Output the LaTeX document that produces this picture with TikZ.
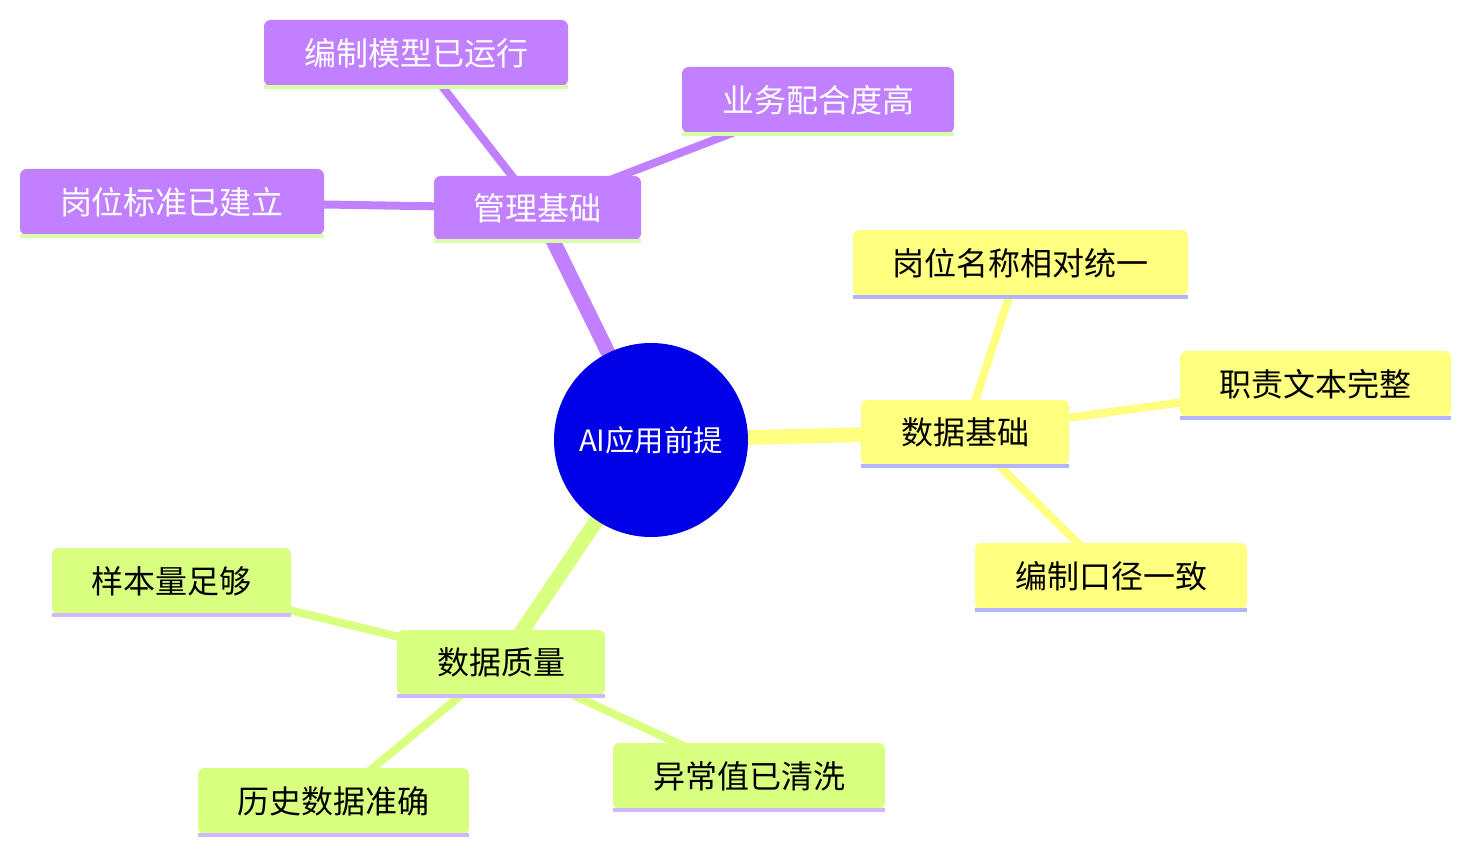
\documentclass[tikz,border=0pt]{standalone}
\usepackage{fontspec}
\newfontfamily\cjk{Noto Sans CJK SC}
\begin{document}
\begin{tikzpicture}[x=0.75pt,y=-0.75pt]
\definecolor{pur}{HTML}{C080FF}
\definecolor{yel}{HTML}{FFFF80}
\definecolor{grn}{HTML}{D9FF80}
\definecolor{lg}{HTML}{D9FFAA}
\definecolor{lb}{HTML}{B3B3FF}
\definecolor{lp}{HTML}{D0B8FF}
\definecolor{rootc}{HTML}{0000E6}
\tikzset{
 box/.style={rounded corners=5pt,inner sep=0pt,font=\cjk\fontsize{24}{28}\selectfont,text=black},
 pbox/.style={box,fill=pur,text=white},
 ybox/.style={box,fill=yel},
 gbox/.style={box,fill=grn},
 e1/.style={line width=11pt},
 e2/.style={line width=6pt},
}
\useasboundingbox (0,0) rectangle (1471,855);
\coordinate (rc) at (651,440);
% coordinates for edges
\coordinate (m) at (537,208);
\coordinate (d) at (965,432);
\coordinate (q) at (501,662);
\draw[e1,pur] (rc) -- (m);
\draw[e1,yel] (rc) -- (d);
\draw[e1,grn] (rc) -- (q);
\draw[e2,pur] (m) -- (416,53);
\draw[e2,pur] (m) -- (818,100);
\draw[e2,pur] (m) -- (172,202);
\draw[e2,yel] (d) -- (1020,263);
\draw[e2,yel] (d) -- (1315,384);
\draw[e2,yel] (d) -- (1111,576);
\draw[e2,grn] (q) -- (171,581);
\draw[e2,grn] (q) -- (333,801);
\draw[e2,grn] (q) -- (749,776);
\node[circle,fill=rootc,minimum size=145.5pt,inner sep=0pt,text=white,font=\cjk\fontsize{22}{26}\selectfont] (root) at (rc) {AI应用前提};
\newcommand\mybox[7]{%
 \node[#6,minimum width={(#4-#2)*0.75pt},minimum height={(#5-#3)*0.75pt}] (#1) at ({(#2+#4)/2},{(#3+#5)/2}) {#7};
 \draw[line width=3pt,#1line] (#2,#5+1) -- (#4,#5+1);}
\colorlet{pbline}{lg}\colorlet{ybline}{lb}\colorlet{gbline}{lp}
\renewcommand\mybox[8]{%
 \node[#6,minimum width={(#4-#2)*0.75pt},minimum height={(#5-#3)*0.75pt}] (#1) at ({(#2+#4)/2},{(#3+#5)/2}) {#8};
 \draw[line width=3pt,#7] (#2,#5+1) -- (#4,#5+1);}
\mybox{mgmt}{434}{176}{641}{240}{pbox}{lg}{管理基础}
\mybox{m1}{264}{20}{568}{86}{pbox}{lg}{编制模型已运行}
\mybox{m2}{682}{67}{954}{133}{pbox}{lg}{业务配合度高}
\mybox{m3}{20}{169}{324}{235}{pbox}{lg}{岗位标准已建立}
\mybox{data}{861}{400}{1069}{465}{ybox}{lb}{数据基础}
\mybox{d1}{853}{230}{1188}{296}{ybox}{lb}{岗位名称相对统一}
\mybox{d2}{1180}{351}{1451}{417}{ybox}{lb}{职责文本完整}
\mybox{d3}{975}{543}{1247}{609}{ybox}{lb}{编制口径一致}
\mybox{qual}{397}{630}{605}{695}{gbox}{lp}{数据质量}
\mybox{q1}{52}{548}{291}{614}{gbox}{lp}{样本量足够}
\mybox{q2}{198}{768}{469}{834}{gbox}{lp}{历史数据准确}
\mybox{q3}{613}{743}{885}{809}{gbox}{lp}{异常值已清洗}
\end{tikzpicture}
\end{document}
